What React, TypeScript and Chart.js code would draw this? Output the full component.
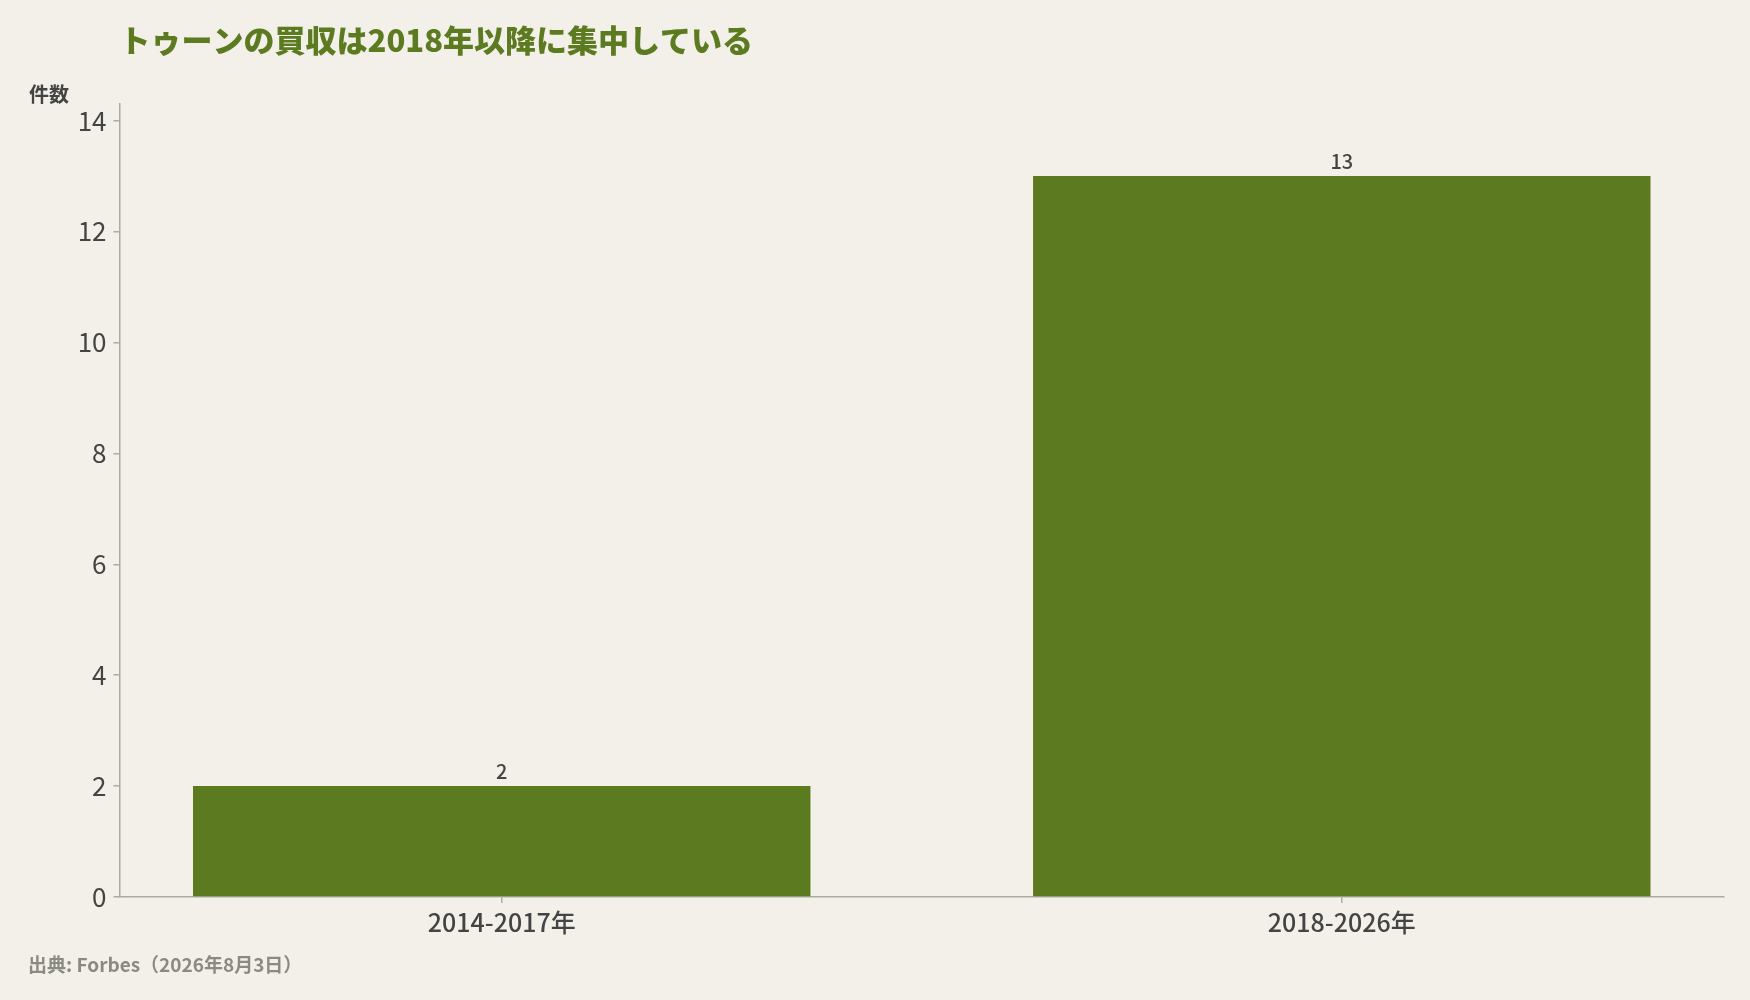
import { useEffect, useRef } from 'react';
import { Chart, registerables } from 'chart.js';

Chart.register(...registerables);

const categories = ['2014-2017年', '2018-2026年'];
const counts = [2, 13];
const title = 'トゥーンの買収は2018年以降に集中している';
const yLabel = '件数';
const source = '出典: Forbes（2026年8月3日）';

const FONT = '"Noto Sans CJK JP", "Noto Sans", sans-serif';
const BG = '#f3f0e9';
const GREEN = '#5c7a1f';
const AXIS = '#a9ada0';
const TEXT = '#444444';

const textPlugin = {
	id: 'texts',
	beforeDraw(chart: any) {
		const ctx = chart.ctx;
		ctx.save();
		ctx.fillStyle = BG;
		ctx.fillRect(0, 0, chart.width, chart.height);
		ctx.restore();
	},
	afterDraw(chart: any) {
		const ctx = chart.ctx;
		const area = chart.chartArea;
		ctx.save();
		ctx.textBaseline = 'middle';
		ctx.textAlign = 'left';
		ctx.fillStyle = GREEN;
		ctx.font = `900 31px ${FONT}`;
		ctx.fillText(title, area.left, 40);
		ctx.fillStyle = TEXT;
		ctx.font = `bold 20px ${FONT}`;
		ctx.fillText(yLabel, 29, 94);
		ctx.fillStyle = '#8a8a82';
		ctx.font = `bold 19px ${FONT}`;
		ctx.fillText(source, 28, 965);

		// value labels above the bars
		const meta = chart.getDatasetMeta(0);
		ctx.fillStyle = TEXT;
		ctx.font = `500 20px ${FONT}`;
		ctx.textAlign = 'center';
		ctx.textBaseline = 'bottom';
		meta.data.forEach((bar: any, i: number) => {
			ctx.fillText(String(counts[i]), bar.x, bar.y - 5);
		});
		ctx.restore();
	},
};

export default function App() {
	const canvasRef = useRef<HTMLCanvasElement | null>(null);
	const chartInstance = useRef<Chart | null>(null);

	useEffect(() => {
		const ctx = canvasRef.current?.getContext('2d');
		if (chartInstance.current) {
			chartInstance.current.destroy();
		}
		if (ctx) {
			chartInstance.current = new Chart(ctx, {
				type: 'bar',
				data: {
					datasets: [
						{
							label: yLabel,
							data: counts.map((v, i) => ({ x: i, y: v })),
							backgroundColor: GREEN,
							borderWidth: 0,
							barPercentage: 0.735,
							categoryPercentage: 1,
						},
					],
				},
				options: {
					responsive: false,
					animation: false,
					devicePixelRatio: 1,
					layout: { padding: { left: 0, top: 104, right: 26, bottom: 0 } },
					plugins: {
						legend: { display: false },
						title: { display: false },
						tooltip: { enabled: false },
					},
					scales: {
						x: {
							type: 'linear',
							offset: false,
							min: -0.455,
							max: 1.455,
							afterBuildTicks: (scale: any) => {
								scale.ticks = categories.map((_, i) => ({ value: i }));
							},
							afterFit: (scale: any) => {
								scale.height = 103;
							},
							ticks: {
								callback: (v: any) => categories[v as number] ?? '',
								color: TEXT,
								font: { family: FONT, size: 25, weight: 500 },
								padding: 4,
								maxRotation: 0,
							},
							grid: {
								offset: false,
								drawOnChartArea: false,
								drawTicks: true,
								tickLength: 6,
								color: AXIS,
								lineWidth: 1.5,
							},
							border: { display: true, color: AXIS, width: 1.5 },
						},
						y: {
							type: 'linear',
							min: 0,
							max: 14.3,
							afterFit: (scale: any) => {
								scale.width = 119.5;
							},
							ticks: {
								stepSize: 2,
								includeBounds: false,
								color: TEXT,
								font: { family: FONT, size: 26 },
								padding: 7,
							},
							grid: {
								drawOnChartArea: false,
								drawTicks: true,
								tickLength: 6,
								color: AXIS,
								lineWidth: 1.5,
							},
							border: { display: true, color: AXIS, width: 1.5 },
						},
					},
				},
				plugins: [textPlugin],
			});
		}
		return () => {
			if (chartInstance.current) {
				chartInstance.current.destroy();
				chartInstance.current = null;
			}
		};
	}, []);

	return (
		<div style={{ position: 'absolute', top: 0, left: 0, width: 1750, height: 1000, background: BG }}>
			<canvas ref={canvasRef} width={1750} height={1000}></canvas>
		</div>
	);
}
